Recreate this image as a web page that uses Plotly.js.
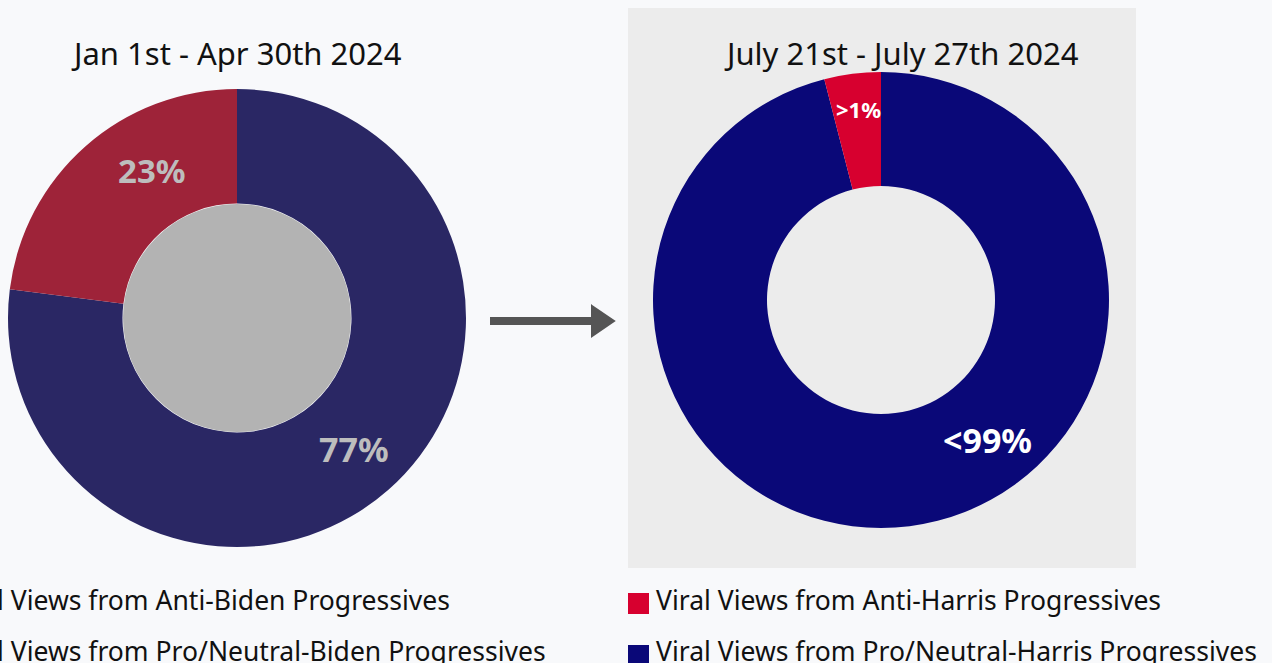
<!DOCTYPE html>
<html>
<head>
<meta charset="utf-8">
<script src="https://cdn.plot.ly/plotly-3.0.1.min.js"></script>
<style>
  html, body { margin: 0; padding: 0; background: #f8f9fb; overflow: hidden; }
  #chart { width: 1272px; height: 663px; }
</style>
</head>
<body>
<div id="chart"></div>
<script>
// ---- data ----
const periods = ["Jan 1st - Apr 30th 2024", "July 21st - July 27th 2024"];
const leftLabels = ["Viral Views from Anti-Biden Progressives", "Viral Views from Pro/Neutral-Biden Progressives"];
const leftValues = [23, 77];
const leftText = ["23%", "77%"];
const rightLabels = ["Viral Views from Anti-Harris Progressives", "Viral Views from Pro/Neutral-Harris Progressives"];
const rightValues = [4, 96];
const rightText = [">1%", "<99%"];

// ---- styling / layout helpers ----
const W = 1272, H = 663;
const X = p => p / W;
const Y = p => 1 - p / H;
const FONT = "'Noto Sans', 'Open Sans', sans-serif";
const leftColors = ["#9e2339", "#2a2764"];
const rightColors = ["#d7002f", "#0a0878"];

const L = {cx: 237, cy: 318, r: 229};
const R = {cx: 881, cy: 300, r: 228};

function dom(c) {
  return {x: [X(c.cx - c.r), X(c.cx + c.r)], y: [Y(c.cy + c.r), Y(c.cy - c.r)]};
}
const rev = a => a.slice().reverse();

// order reversed so that the first category sits just left of 12 o'clock, going clockwise
const traces = [
  {
    type: "pie", values: rev(leftValues), labels: rev(leftLabels), sort: false,
    direction: "clockwise", rotation: 0, hole: 0.5,
    marker: {colors: rev(leftColors), line: {width: 0}},
    textinfo: "none", showlegend: false, domain: dom(L), hoverinfo: "label+percent"
  },
  {
    type: "pie", values: rev(rightValues), labels: rev(rightLabels), sort: false,
    direction: "clockwise", rotation: 0, hole: 0.5,
    marker: {colors: rev(rightColors), line: {width: 0}},
    textinfo: "none", showlegend: false, domain: dom(R), hoverinfo: "label+percent"
  }
];

const ri = 114;
const shapes = [
  {type: "rect", xref: "paper", yref: "paper", layer: "below",
   x0: X(628), x1: X(1136), y0: Y(568), y1: Y(8),
   fillcolor: "#ececec", line: {width: 0}},
  {type: "circle", xref: "paper", yref: "paper", layer: "above",
   x0: X(L.cx - ri), x1: X(L.cx + ri), y0: Y(L.cy + ri), y1: Y(L.cy - ri),
   fillcolor: "#b3b3b3", line: {width: 0}},
  // arrow
  {type: "line", xref: "paper", yref: "paper", x0: X(490), x1: X(596), y0: Y(321), y1: Y(321),
   line: {color: "#555555", width: 8}},
  {type: "path", xref: "paper", yref: "paper",
   path: `M ${X(592)},${Y(306)} L ${X(614)},${Y(321)} L ${X(592)},${Y(336)} Z`,
   fillcolor: "#555555", line: {color: "#555555", width: 2}}
];

const annotations = [];
// titles
annotations.push({xref: "paper", yref: "paper", x: X(237), y: Y(53), text: periods[0], showarrow: false,
  xanchor: "center", yanchor: "middle", font: {family: FONT, size: 31, color: "#111111"}});
annotations.push({xref: "paper", yref: "paper", x: X(901), y: Y(53), text: periods[1], showarrow: false,
  xanchor: "center", yanchor: "middle", font: {family: FONT, size: 31, color: "#111111"}});

// slice labels
const lblPos = [
  {x: 152, y: 171, size: 33, color: "#bdbdbd", t: leftText[0]},
  {x: 354, y: 449, size: 34, color: "#bdbdbd", t: leftText[1]},
  {x: 858, y: 109, size: 22, color: "#ffffff", t: rightText[0]},
  {x: 987, y: 440, size: 34, color: "#ffffff", t: rightText[1]}
];
lblPos.forEach(l => annotations.push({xref: "paper", yref: "paper", x: X(l.x), y: Y(l.y), text: "<b>" + l.t + "</b>",
  showarrow: false, xanchor: "center", yanchor: "middle", font: {family: FONT, size: l.size, color: l.color}}));

// legends
function legend(x0, labels, colors, gap) {
  const mk = [593, 645];
  const ty = [600, 651];
  labels.forEach((lab, i) => {
    shapes.push({type: "rect", xref: "paper", yref: "paper", x0: X(x0), x1: X(x0 + 21),
      y0: Y(mk[i] + 21), y1: Y(mk[i]), fillcolor: colors[i], line: {width: 0}});
    annotations.push({xref: "paper", yref: "paper", x: X(x0 + gap), y: Y(ty[i]), text: lab, showarrow: false,
      xanchor: "left", yanchor: "middle", font: {family: FONT, size: 26.5, color: "#111111"}});
  });
}
legend(-80, leftLabels, leftColors, 27);
legend(628, rightLabels, rightColors, 26);

const layout = {
  width: W, height: H,
  margin: {l: 0, r: 0, t: 0, b: 0},
  paper_bgcolor: "#f8f9fb",
  plot_bgcolor: "#f8f9fb",
  showlegend: false,
  shapes: shapes,
  annotations: annotations
};

Plotly.newPlot("chart", traces, layout, {displayModeBar: false, staticPlot: true});
</script>
</body>
</html>
